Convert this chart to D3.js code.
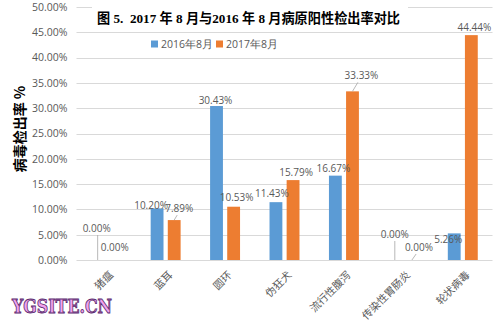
<!DOCTYPE html>
<html>
<head>
<meta charset="utf-8">
<script src="https://cdn.jsdelivr.net/npm/d3@7"></script>
<style>
  html, body { margin: 0; padding: 0; background: #fff; }
  svg { display: block; }
</style>
</head>
<body>
<svg id="chart" width="500" height="324"></svg>
<script>
// Pathogen categories and positive-detection rates (%)
const categories = ["猪瘟", "蓝耳", "圆环", "伪狂犬", "流行性腹泻", "传染性胃肠炎", "轮状病毒"];
const seriesNames = ["2016年8月", "2017年8月"];
const rate2016 = [0.00, 10.20, 30.43, 11.43, 16.67, 0.00, 5.26];
const rate2017 = [0.00, 7.89, 10.53, 15.79, 33.33, 0.00, 44.44];
const yTicks = [0, 5, 10, 15, 20, 25, 30, 35, 40, 45, 50];

const colors = ["#5b9bd5", "#ed7d31"];
const grey = "#595959";
const numFont = "'Open Sans', 'DejaVu Sans', sans-serif";
const cjkFont = "'Noto Sans CJK SC', sans-serif";

const svg = d3.select("#chart");
const plot = { left: 76.5, right: 492.5, top: 7, bottom: 260 };

const x = d3.scaleBand().domain(categories).range([plot.left, plot.right]).paddingInner(0.496).paddingOuter(0.248);
const xs = d3.scaleBand().domain([0, 1]).range([0, x.bandwidth()]).paddingInner(0.25);
const y = d3.scaleLinear().domain([0, 50]).range([plot.bottom, plot.top]);

// Horizontal gridlines
svg.append("g").selectAll("line").data(yTicks).join("line")
  .attr("x1", plot.left).attr("x2", plot.right)
  .attr("y1", d => Math.round(y(d)) + 0.5).attr("y2", d => Math.round(y(d)) + 0.5)
  .attr("stroke", "#d9d9d9").attr("stroke-width", 1);

// Y axis tick labels
const yAxis = d3.axisLeft(y).tickValues(yTicks).tickSize(0).tickPadding(0)
  .tickFormat(d => d.toFixed(2) + "%");
const yg = svg.append("g").attr("transform", `translate(${plot.left - 9},0)`).call(yAxis);
yg.select(".domain").remove();
yg.selectAll("text").attr("fill", grey).attr("font-family", numFont).attr("font-size", 10.5);

// Bars
const series = [rate2016, rate2017];
const barData = [];
categories.forEach((c, i) => series.forEach((s, k) => barData.push({ cat: c, i, k, v: s[i] })));

svg.append("g").selectAll("rect").data(barData).join("rect")
  .attr("x", d => x(d.cat) + xs(d.k))
  .attr("y", d => y(d.v))
  .attr("width", xs.bandwidth())
  .attr("height", d => y(0) - y(d.v))
  .attr("fill", d => colors[d.k]);

// Label placement tweaks (dx, dy from the default spot above each bar), plus optional leader lines
const labelShift = {
  "0-0": [-1, -28, true], "0-1": [0, -9, false],
  "1-0": [-6, 1, false], "1-1": [5, -8, true],
  "2-0": [-1, -2, false], "2-1": [3, -6, false],
  "3-0": [-4, -5, false], "3-1": [3, -4, false],
  "4-0": [-2, -4, false], "4-1": [9, -12, true],
  "5-0": [0, -22, true], "5-1": [7, -9, true],
  "6-0": [-6, 10, false], "6-1": [3, -4, false]
};

const lbl = svg.append("g");
barData.forEach(d => {
  const cx = x(d.cat) + xs(d.k) + xs.bandwidth() / 2;
  const top = y(d.v);
  const [dx, dy, leader] = labelShift[d.i + "-" + d.k];
  const tx = cx + dx, ty = top + dy;
  if (leader) {
    lbl.append("line")
      .attr("x1", cx).attr("y1", top)
      .attr("x2", dx > 3 ? cx + dx * 0.6 : cx).attr("y2", ty + 3)
      .attr("stroke", "#a6a6a6").attr("stroke-width", 0.8);
  }
  lbl.append("text")
    .attr("x", tx).attr("y", ty)
    .attr("text-anchor", "middle")
    .attr("fill", grey).attr("font-family", numFont).attr("font-size", 10)
    .text(d.v.toFixed(2) + "%");
});

// Category labels, rotated
svg.append("g").selectAll("text").data(categories).join("text")
  .attr("transform", d => `translate(${x(d) + x.bandwidth() / 2 + 5},273) rotate(-45)`)
  .attr("text-anchor", "end").attr("dy", "0.35em")
  .attr("fill", grey).attr("font-family", cjkFont).attr("font-size", 10.5)
  .text(d => d);

// Title, on a white panel over the grid
svg.append("rect").attr("x", 92).attr("y", 0).attr("width", 316).attr("height", 29).attr("fill", "#fff");
svg.append("text")
  .attr("x", 97).attr("y", 23)
  .attr("font-family", "'Liberation Serif', 'Noto Sans CJK SC', serif")
  .attr("font-weight", "bold").attr("font-size", 13.5).attr("fill", "#000")
  .attr("xml:space", "preserve")
  .attr("textLength", 303).attr("lengthAdjust", "spacingAndGlyphs")
  .text("图 5.  2017 年 8 月与2016 年 8 月病原阳性检出率对比");

// Legend
const legend = svg.append("g").attr("transform", "translate(151,44)");
const legendX = [0, 65];
seriesNames.forEach((name, k) => {
  const g = legend.append("g").attr("transform", `translate(${legendX[k]},0)`);
  g.append("rect").attr("x", 0).attr("y", -3.5).attr("width", 7).attr("height", 7).attr("fill", colors[k]);
  g.append("text").attr("x", 10).attr("y", 0).attr("dy", "0.35em")
    .attr("fill", grey).attr("font-family", numFont).attr("font-size", 10.5).text(name);
});

// Y axis title
svg.append("text")
  .attr("transform", "translate(20,129) rotate(-90)")
  .attr("text-anchor", "middle").attr("dy", "0.35em")
  .attr("font-family", "'Noto Sans CJK SC', serif").attr("font-weight", "bold")
  .attr("font-size", 14).attr("fill", "#000")
  .text("病毒检出率 %");

// Site mark
svg.append("text")
  .attr("x", 12).attr("y", 313)
  .attr("font-family", "'DejaVu Serif', serif").attr("font-weight", "bold")
  .attr("font-size", 19).attr("textLength", 100).attr("lengthAdjust", "spacingAndGlyphs")
  .attr("fill", "#f2a3ee").attr("stroke", "#5a2a6e").attr("stroke-width", 0.9)
  .text("YGSITE.CN");
</script>
</body>
</html>
